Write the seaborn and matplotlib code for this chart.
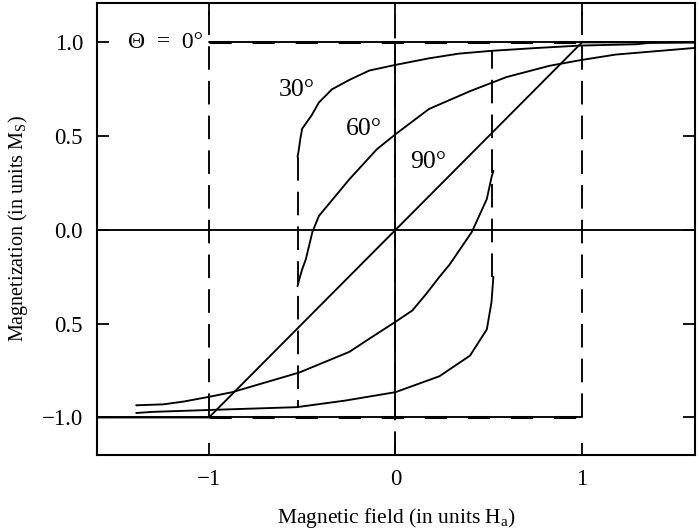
import matplotlib
matplotlib.use("Agg")
import matplotlib.pyplot as plt
import seaborn as sns

# Stoner-Wohlfarth hysteresis loops, field in units of H_a, magnetization in units of M_S
# 30 deg loop: descending-field branch and ascending-field branch
h30_down = [1.60, 1.36, 1.29, 0.99, 0.755, 0.515, 0.34, 0.18, 0.0, -0.14, -0.247,
            -0.34, -0.41, -0.45, -0.50, -0.51, -0.52, -0.525]
m30_down = [1.0, 0.997, 0.99, 0.983, 0.97, 0.955, 0.94, 0.915, 0.88, 0.85, 0.80,
            0.75, 0.68, 0.61, 0.54, 0.485, 0.415, 0.39]
h30_up = [-1.39, -1.30, -1.0, -0.53, -0.27, 0.0, 0.236, 0.40, 0.49, 0.515, 0.525]
m30_up = [-0.976, -0.97, -0.96, -0.945, -0.91, -0.865, -0.78, -0.67, -0.53, -0.385, -0.25]

# 60 deg loop
h60_down = [1.60, 1.36, 1.18, 0.99, 0.825, 0.595, 0.40, 0.18, 0.0, -0.10, -0.247,
            -0.41, -0.445, -0.48, -0.50, -0.515, -0.525]
m60_down = [0.97, 0.95, 0.935, 0.905, 0.875, 0.815, 0.74, 0.645, 0.51, 0.43, 0.27,
            0.075, -0.01, -0.155, -0.21, -0.26, -0.30]
h60_up = [-1.39, -1.245, -1.135, -1.0, -0.875, -0.515, -0.247, -0.14, 0.0, 0.09,
          0.166, 0.236, 0.29, 0.41, 0.49, 0.515, 0.525]
m60_up = [-0.935, -0.93, -0.915, -0.89, -0.865, -0.76, -0.65, -0.58, -0.49, -0.43,
          -0.34, -0.25, -0.185, -0.01, 0.165, 0.28, 0.315]

# 90 deg (hard axis): linear up to saturation
h90 = [-1.6, -1.0, 1.0, 1.6]
m90 = [-1.0, -1.0, 1.0, 1.0]

# 0 deg (easy axis): square loop
h0_down = [1.6, -1.0]
m0_down = [1.0, 1.0]
h0_up = [-1.6, 1.0]
m0_up = [-1.0, -1.0]

# switching fields and jump end points
h_sw0 = 1.0
h_sw30 = 0.52
jump30_left = [0.39, -0.945]
jump30_right = [-0.25, 0.955]

curve_labels = ["\u0398  =  0\u00b0", "30\u00b0", "60\u00b0", "90\u00b0"]
label_h = [-1.03, -0.53, -0.17, 0.177]
label_m = [1.0, 0.745, 0.54, 0.36]

x_ticks = [-1, 0, 1]
x_ticklabels = ["\u22121", "0", "1"]
y_ticks = [1.0, 0.5, 0.0, -0.5, -1.0]
y_ticklabels = ["1.0", "0.5", "0.0", "0.5", "\u22121.0"]

sns.set_theme(style="white")
plt.rcParams["font.family"] = ["Liberation Serif", "DejaVu Serif"]
plt.rcParams["mathtext.fontset"] = "custom"
plt.rcParams["mathtext.rm"] = "Liberation Serif"
plt.rcParams["mathtext.it"] = "Liberation Serif:italic"
plt.rcParams["lines.scale_dashes"] = False

fig = plt.figure(figsize=(6.99, 5.31), dpi=100)
ax = fig.add_axes([97 / 699, 1 - 455 / 531, 598 / 699, 452 / 531])

XMIN, XMAX = -1.6, 1.606
YMIN, YMAX = -1.2, 1.21

k = dict(color="black", lw=1.35, sort=False, estimator=None, ax=ax, legend=False)
vdash = (0, (17, 8))

# axes through the origin
ax.axhline(0, color="black", lw=1.35)
sns.lineplot(x=[0, 0], y=[YMIN, YMAX], color="black", lw=1.35, ax=ax,
             sort=False, estimator=None, linestyle=vdash)
sns.lineplot(x=[0, 0], y=[-1.0, 1.0], **k)

# 0 deg square loop
sns.lineplot(x=h0_down, y=m0_down, **k)
sns.lineplot(x=h0_up, y=m0_up, **k)
for m in (1.0, -1.0):
    sns.lineplot(x=[-h_sw0, h_sw0], y=[m, m], color="black", lw=2.2, ax=ax,
                 sort=False, estimator=None, linestyle=(0, (16, 15)))
for h in (-h_sw0, h_sw0):
    sns.lineplot(x=[h, h], y=[-1.0, YMAX], color="black", lw=1.35, ax=ax,
                 sort=False, estimator=None, linestyle=vdash)

# 90 deg
sns.lineplot(x=h90, y=m90, **k)

# 30 and 60 deg loops
sns.lineplot(x=h30_down, y=m30_down, **k)
sns.lineplot(x=h30_up, y=m30_up, **k)
sns.lineplot(x=h60_down, y=m60_down, **k)
sns.lineplot(x=h60_up, y=m60_up, **k)

# irreversible jumps at the switching field
sns.lineplot(x=[-h_sw30, -h_sw30], y=jump30_left, color="black", lw=1.35, ax=ax,
             sort=False, estimator=None, linestyle=vdash)
sns.lineplot(x=[h_sw30, h_sw30], y=jump30_right, color="black", lw=1.35, ax=ax,
             sort=False, estimator=None, linestyle=vdash)

# curve labels
for i, (t, hx, my) in enumerate(zip(curve_labels, label_h, label_m)):
    if i == 0:
        ax.text(hx, my, t, ha="right", va="center", fontsize=17, color="black")
    else:
        ax.text(hx, my, t, ha="center", va="center", fontsize=18.5, color="black")

ax.set_xlim(XMIN, XMAX)
ax.set_ylim(YMIN, YMAX)
ax.set_xticks(x_ticks)
ax.set_xticklabels(x_ticklabels)
ax.set_yticks(y_ticks)
ax.set_yticklabels(y_ticklabels)
ax.tick_params(axis="both", direction="in", length=8.5, width=1.3, labelsize=16.5,
               pad=10, colors="black", top=True, right=True, bottom=True, left=True)
for s in ax.spines.values():
    s.set_color("black")
    s.set_linewidth(1.5)

ax.set_xlabel("Magnetic field (in units H$_\\mathrm{a}$)", fontsize=15.5, color="black")
ax.set_ylabel("Magnetization (in units M$_\\mathrm{S}$)", fontsize=14.5, color="black")
ax.xaxis.set_label_coords(0.5, -0.113)
ax.yaxis.set_label_coords(-0.112, 0.5)

fig.savefig("out.png", dpi=100)
